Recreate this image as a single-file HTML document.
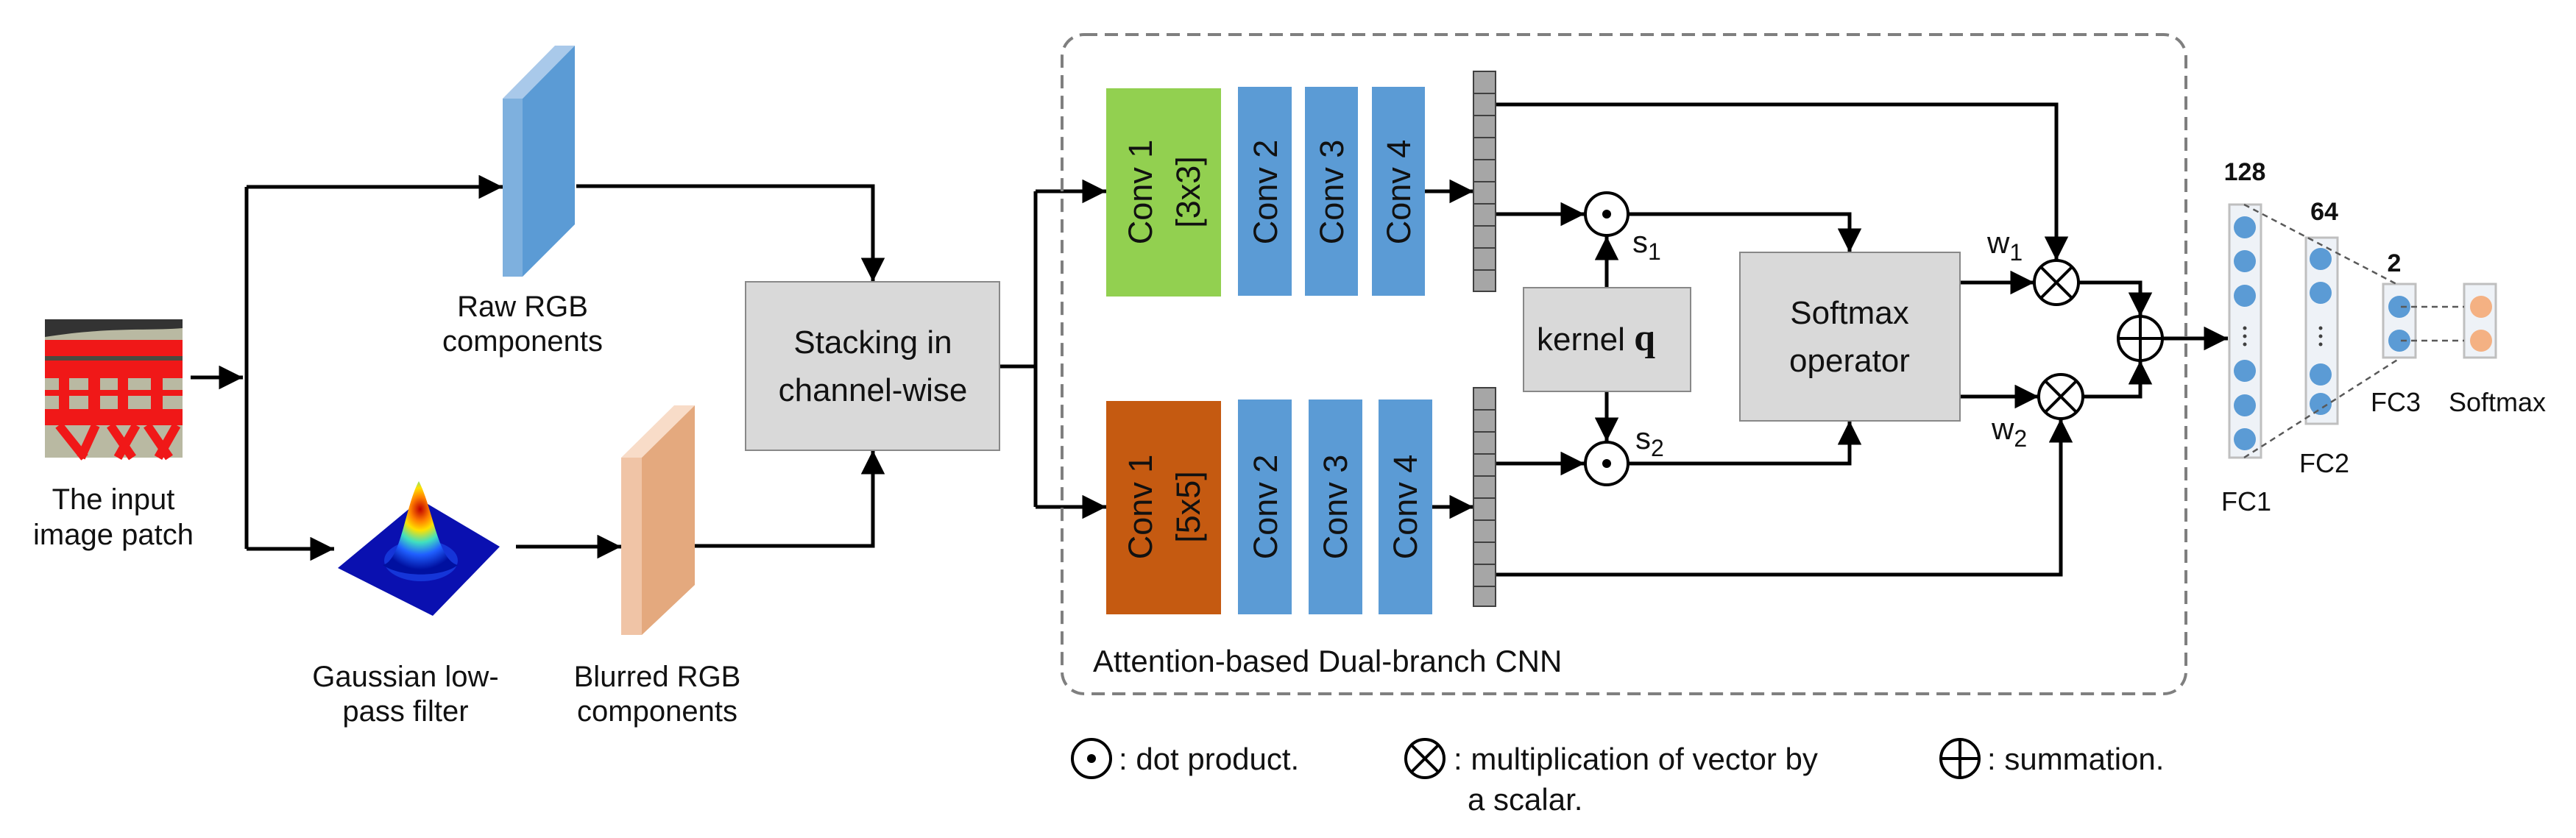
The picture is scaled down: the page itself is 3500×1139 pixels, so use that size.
<!DOCTYPE html>
<html><head><meta charset="utf-8"><style>
html,body{margin:0;padding:0;background:#fff;}
svg{display:block;}
text{font-family:"Liberation Sans",sans-serif;fill:#111;}
</style></head><body>
<svg width="3500" height="1139" viewBox="0 0 3500 1139" xmlns="http://www.w3.org/2000/svg">
<defs>
<marker id="ah" viewBox="0 0 10 10" refX="10" refY="5" markerWidth="6.5" markerHeight="6.5" markerUnits="strokeWidth" orient="auto"><path d="M0,0 L10,5 L0,10 z" fill="#000"/></marker>
<radialGradient id="bump" cx="50%" cy="30%" r="65%">
<stop offset="0" stop-color="#c00000"/><stop offset="0.2" stop-color="#ff8000"/><stop offset="0.35" stop-color="#ffe000"/><stop offset="0.55" stop-color="#40e0c0"/><stop offset="0.75" stop-color="#2060ff"/><stop offset="1" stop-color="#0010a0"/></radialGradient>
</defs>

<!-- input patch -->
<rect x="61" y="434" width="187" height="188" fill="#b9b9a2"/>
<path d="M61,434 H248 V446 C200,450 150,444 61,458 z" fill="#333"/>
<rect x="61" y="462" width="187" height="22" fill="#f01818"/>
<rect x="61" y="484" width="187" height="6" fill="#4a4a40"/>
<rect x="61" y="490" width="187" height="24" fill="#f01818"/>
<rect x="80" y="514" width="14" height="48" fill="#f01818"/>
<rect x="120" y="514" width="16" height="48" fill="#f01818"/>
<rect x="160" y="514" width="14" height="48" fill="#f01818"/>
<rect x="205" y="514" width="16" height="48" fill="#f01818"/>
<rect x="61" y="530" width="187" height="8" fill="#f01818"/>
<rect x="61" y="556" width="187" height="22" fill="#f01818"/>
<path d="M80,578 L115,622 M130,578 L110,622 M150,578 L180,622 M185,578 L160,622 M200,578 L230,622 M240,578 L215,622" stroke="#f01818" stroke-width="12"/>

<g stroke="#000" stroke-width="5" fill="none">
<line x1="259" y1="513" x2="330" y2="513" marker-end="url(#ah)"/>
<polyline points="335,254 335,746"/>
<polyline points="335,254 683,254" marker-end="url(#ah)"/>
<polyline points="335,746 454,746" marker-end="url(#ah)"/>
<polyline points="701,743 844,743" marker-end="url(#ah)"/>
<polyline points="783,253 1186,253 1186,383" marker-end="url(#ah)"/>
<polyline points="944,742 1186,742 1186,612" marker-end="url(#ah)"/>
<polyline points="1358,498 1407,498"/>
<polyline points="1407,260 1407,689"/>
<polyline points="1407,260 1503,260" marker-end="url(#ah)"/>
<polyline points="1407,689 1503,689" marker-end="url(#ah)"/>
<line x1="1936" y1="260" x2="2002" y2="260" marker-end="url(#ah)"/>
<line x1="1946" y1="689" x2="2002" y2="689" marker-end="url(#ah)"/>
<polyline points="2032,142 2794,142 2794,354" marker-end="url(#ah)"/>
<polyline points="2032,291 2153,291" marker-end="url(#ah)"/>
<polyline points="2032,630 2153,630" marker-end="url(#ah)"/>
<polyline points="2213,291 2513,291 2513,343" marker-end="url(#ah)"/>
<polyline points="2213,630 2513,630 2513,572" marker-end="url(#ah)"/>
<line x1="2183" y1="391" x2="2183" y2="321" marker-end="url(#ah)"/>
<line x1="2183" y1="532" x2="2183" y2="600" marker-end="url(#ah)"/>
<line x1="2663" y1="384" x2="2764" y2="384" marker-end="url(#ah)"/>
<line x1="2663" y1="539" x2="2770" y2="539" marker-end="url(#ah)"/>
<polyline points="2032,781 2800,781 2800,569" marker-end="url(#ah)"/>
<polyline points="2824,384 2908,384 2908,430" marker-end="url(#ah)"/>
<polyline points="2830,539 2908,539 2908,490" marker-end="url(#ah)"/>
<line x1="2938" y1="460" x2="3027" y2="460" marker-end="url(#ah)"/>
</g>

<!-- raw slab -->
<polygon points="683,134 710,134 781,62 754,62" fill="#a9c9ea"/>
<rect x="683" y="134" width="27" height="242" fill="#7eb0de"/>
<polygon points="710,134 781,62 781,305 710,376" fill="#5b9bd5"/>
<!-- blurred slab -->
<polygon points="844,622 872,622 944,551 916,551" fill="#f8dcc8"/>
<rect x="844" y="622" width="28" height="241" fill="#f0c4a6"/>
<polygon points="872,622 944,551 944,795 872,863" fill="#e4a97e"/>

<!-- gaussian -->
<polygon points="459,772 571,679 679,743 588,837" fill="#0a10b0"/>
<ellipse cx="572" cy="762" rx="50" ry="28" fill="#1535d8"/>
<path d="M520,768 C545,762 550,690 569,654 C588,690 595,762 622,768 C600,785 545,785 520,768 z" fill="url(#bump)"/>

<text x="710" y="430" font-size="40" text-anchor="middle">Raw RGB</text>
<text x="710" y="477" font-size="40" text-anchor="middle">components</text>
<text x="154" y="692" font-size="40" text-anchor="middle">The input</text>
<text x="154" y="740" font-size="40" text-anchor="middle">image patch</text>
<text x="551" y="933" font-size="40" text-anchor="middle">Gaussian low-</text>
<text x="551" y="980" font-size="40" text-anchor="middle">pass filter</text>
<text x="893" y="933" font-size="40" text-anchor="middle">Blurred RGB</text>
<text x="893" y="980" font-size="40" text-anchor="middle">components</text>

<rect x="1013" y="383" width="345" height="229" fill="#d9d9d9" stroke="#888" stroke-width="2"/>
<text x="1186" y="480" font-size="44" text-anchor="middle">Stacking in</text>
<text x="1186" y="545" font-size="44" text-anchor="middle">channel-wise</text>

<!-- dashed box -->
<rect x="1443" y="47" width="1527" height="896" rx="30" fill="none" stroke="#7f7f7f" stroke-width="4" stroke-dasharray="18,10"/>
<text x="1485" y="913" font-size="42">Attention-based Dual-branch CNN</text>

<!-- convs -->
<rect x="1503" y="120" width="156" height="283" fill="#92d050"/>
<rect x="1682" y="118" width="73" height="284" fill="#5b9bd5"/>
<rect x="1773" y="118" width="72" height="284" fill="#5b9bd5"/>
<rect x="1864" y="118" width="72" height="284" fill="#5b9bd5"/>
<rect x="1503" y="545" width="156" height="290" fill="#c55a11"/>
<rect x="1682" y="543" width="73" height="292" fill="#5b9bd5"/>
<rect x="1778" y="543" width="73" height="292" fill="#5b9bd5"/>
<rect x="1873" y="543" width="73" height="292" fill="#5b9bd5"/>
<g font-size="45" text-anchor="middle">
<text transform="translate(1565,261) rotate(-90)" fill="#fff">Conv 1</text>
<text transform="translate(1630,261) rotate(-90)" fill="#fff">[3x3]</text>
<text transform="translate(1735,261) rotate(-90)" fill="#fff">Conv 2</text>
<text transform="translate(1825,261) rotate(-90)" fill="#fff">Conv 3</text>
<text transform="translate(1916,261) rotate(-90)" fill="#fff">Conv 4</text>
<text transform="translate(1565,689) rotate(-90)" fill="#fff">Conv 1</text>
<text transform="translate(1630,689) rotate(-90)" fill="#fff">[5x5]</text>
<text transform="translate(1735,689) rotate(-90)" fill="#fff">Conv 2</text>
<text transform="translate(1830,689) rotate(-90)" fill="#fff">Conv 3</text>
<text transform="translate(1925,689) rotate(-90)" fill="#fff">Conv 4</text>
</g>

<!-- vectors -->
<g fill="#a6a6a6" stroke="#404040" stroke-width="2">
<rect x="2002" y="97" width="30" height="30"/><rect x="2002" y="127" width="30" height="30"/><rect x="2002" y="157" width="30" height="30"/><rect x="2002" y="187" width="30" height="30"/><rect x="2002" y="217" width="30" height="30"/><rect x="2002" y="247" width="30" height="30"/><rect x="2002" y="277" width="30" height="30"/><rect x="2002" y="307" width="30" height="30"/><rect x="2002" y="337" width="30" height="30"/><rect x="2002" y="367" width="30" height="29"/>
<rect x="2002" y="527" width="30" height="30"/><rect x="2002" y="557" width="30" height="30"/><rect x="2002" y="587" width="30" height="30"/><rect x="2002" y="617" width="30" height="30"/><rect x="2002" y="647" width="30" height="30"/><rect x="2002" y="677" width="30" height="30"/><rect x="2002" y="707" width="30" height="30"/><rect x="2002" y="737" width="30" height="30"/><rect x="2002" y="767" width="30" height="30"/><rect x="2002" y="797" width="30" height="27"/>
</g>

<!-- circles -->
<g stroke="#000" stroke-width="4" fill="#fff">
<circle cx="2183" cy="291" r="29"/><circle cx="2183" cy="630" r="29"/>
<circle cx="2794" cy="384" r="30"/><circle cx="2800" cy="539" r="30"/>
<circle cx="2908" cy="460" r="30"/>
<circle cx="1483" cy="1031" r="26"/><circle cx="1936" cy="1031" r="26"/><circle cx="2663" cy="1031" r="26"/>
</g>
<circle cx="2183" cy="291" r="6"/><circle cx="2183" cy="630" r="6"/><circle cx="1483" cy="1031" r="6"/>
<g stroke="#000" stroke-width="4">
<path d="M2773,363 L2815,405 M2815,363 L2773,405"/>
<path d="M2779,518 L2821,560 M2821,518 L2779,560"/>
<path d="M2878,460 H2938 M2908,430 V490"/>
<path d="M1918,1013 L1954,1049 M1954,1013 L1918,1049"/>
<path d="M2637,1031 H2689 M2663,1005 V1057"/>
</g>

<text x="2218" y="343" font-size="42">s<tspan font-size="32" dy="10">1</tspan></text>
<text x="2222" y="610" font-size="42">s<tspan font-size="32" dy="10">2</tspan></text>
<text x="2700" y="344" font-size="42">w<tspan font-size="32" dy="10">1</tspan></text>
<text x="2706" y="597" font-size="42">w<tspan font-size="32" dy="10">2</tspan></text>

<rect x="2070" y="391" width="227" height="141" fill="#d9d9d9" stroke="#888" stroke-width="2"/>
<text x="2088" y="476" font-size="44">kernel <tspan font-family="Liberation Serif" font-weight="bold" font-size="52">q</tspan></text>
<rect x="2364" y="343" width="299" height="229" fill="#d9d9d9" stroke="#888" stroke-width="2"/>
<text x="2513" y="440" font-size="44" text-anchor="middle">Softmax</text>
<text x="2513" y="505" font-size="44" text-anchor="middle">operator</text>

<!-- FC -->
<g fill="#eef2f7" stroke="#bfbfbf" stroke-width="3">
<rect x="3029" y="278" width="43" height="344"/>
<rect x="3133" y="323" width="43" height="253"/>
<rect x="3238" y="386" width="44" height="100"/>
<rect x="3348" y="386" width="43" height="100"/>
</g>
<g fill="#5b9bd5">
<circle cx="3050" cy="309" r="15"/><circle cx="3050" cy="355" r="15"/><circle cx="3050" cy="402" r="15"/><circle cx="3050" cy="504" r="15"/><circle cx="3050" cy="551" r="15"/><circle cx="3050" cy="597" r="15"/>
<circle cx="3153" cy="352" r="15"/><circle cx="3153" cy="398" r="15"/><circle cx="3153" cy="509" r="15"/><circle cx="3153" cy="549" r="15"/>
<circle cx="3260" cy="417" r="15"/><circle cx="3260" cy="463" r="15"/>
</g>
<circle cx="3371" cy="417" r="15" fill="#f4b183"/><circle cx="3371" cy="463" r="15" fill="#f4b183"/>
<g fill="#404040"><circle cx="3050" cy="446" r="2.5"/><circle cx="3050" cy="457" r="2.5"/><circle cx="3050" cy="468" r="2.5"/>
<circle cx="3153" cy="446" r="2.5"/><circle cx="3153" cy="457" r="2.5"/><circle cx="3153" cy="468" r="2.5"/></g>
<g stroke="#595959" stroke-width="2.5" stroke-dasharray="8,6" fill="none">
<line x1="3049" y1="278" x2="3256" y2="386"/>
<line x1="3049" y1="622" x2="3259" y2="488"/>
<line x1="3262" y1="417" x2="3348" y2="417"/>
<line x1="3262" y1="463" x2="3348" y2="463"/>
</g>
<g font-weight="bold" font-size="34" text-anchor="middle">
<text x="3050" y="245" fill="#595959">128</text>
<text x="3158" y="299" fill="#595959">64</text>
<text x="3253" y="369" fill="#595959">2</text>
</g>
<g font-size="36" text-anchor="middle">
<text x="3052" y="694">FC1</text>
<text x="3158" y="642">FC2</text>
<text x="3255" y="559">FC3</text>
<text x="3393" y="559">Softmax</text>
</g>

<!-- legend -->
<g font-size="42">
<text x="1520" y="1046">: dot product.</text>
<text x="1975" y="1046">: multiplication of vector by</text>
<text x="1994" y="1101">a scalar.</text>
<text x="2700" y="1046">: summation.</text>
</g>
</svg>
</body></html>
